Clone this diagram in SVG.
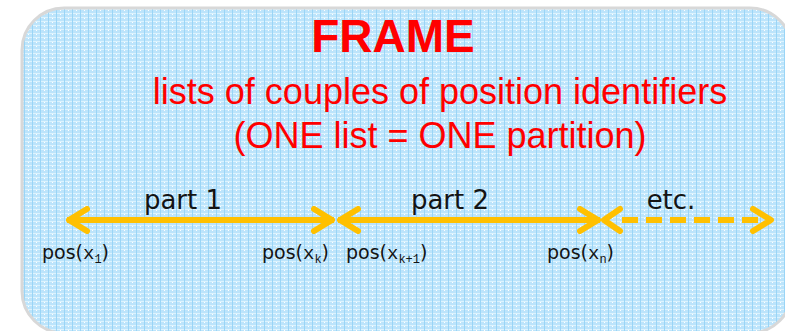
<svg xmlns="http://www.w3.org/2000/svg" width="785" height="331" viewBox="0 0 785 331">
  <defs>
    <!-- fine blue grid texture of the frame panel -->
    <pattern id="grid" x="0" y="0" width="8" height="4" patternUnits="userSpaceOnUse">
      <rect width="8" height="4" fill="#bce4fb"/>
      <rect x="0" y="1" width="8" height="1" fill="#dcf3fe"/>
      <rect x="0" y="0" width="1" height="4" fill="#9ad5f6"/>
      <rect x="4" y="2" width="1" height="1" fill="#ffffff"/>
    </pattern>
    <marker id="chev" viewBox="0 0 24 28" refX="23" refY="14" markerWidth="24" markerHeight="28" markerUnits="userSpaceOnUse" orient="auto-start-reverse">
      <path d="M3,3 L21,14 L3,25" fill="none" stroke="#ffc000" stroke-width="6" stroke-linecap="round" stroke-linejoin="round"/>
    </marker>
    <style>
      .title { font-family: "Liberation Sans", Arial, sans-serif; font-weight: bold; font-size: 46px; fill: #ff0000; }
      .sub { font-family: "Liberation Sans", Arial, sans-serif; font-size: 36px; fill: #ff0000; }
      .part { font-family: "DejaVu Sans", Verdana, sans-serif; font-size: 26px; fill: #141414; }
      .pos { font-family: "DejaVu Sans", Verdana, sans-serif; font-size: 19px; fill: #141414; }
      .var { font-family: "Liberation Mono", "Courier New", monospace; }
      .sub-i { font-family: "Liberation Mono", "Courier New", monospace; font-size: 12px; }
      .arrow { fill: none; stroke: #ffc000; stroke-width: 6; }
      .dashed { stroke-dasharray: 16 8; }
    </style>
  </defs>

  <g id="frame">
    <rect x="22" y="8" width="770" height="325" rx="42" ry="42" fill="url(#grid)" stroke="#d8d8d8" stroke-width="3"/>
    <text class="title" x="393" y="52" text-anchor="middle">FRAME</text>
    <text class="sub" x="440" y="104" text-anchor="middle">lists of couples of position identifiers</text>
    <text class="sub" x="440" y="148" text-anchor="middle">(ONE list = ONE partition)</text>
  </g>

  <g id="connectors">
    <line class="arrow" x1="67" y1="220" x2="334" y2="220" marker-start="url(#chev)" marker-end="url(#chev)"/>
    <line class="arrow" x1="338" y1="220" x2="600" y2="220" marker-start="url(#chev)" marker-end="url(#chev)"/>
    <line class="arrow dashed" x1="622" y1="220" x2="770" y2="220"/>
    <path class="arrow" d="M620,209 L604,220 L620,231" stroke-linecap="round" stroke-linejoin="round"/>
    <path class="arrow" d="M753,209 L771,220 L753,231" stroke-linecap="round" stroke-linejoin="round"/>
  </g>

  <g id="part1">
    <text class="part" x="183" y="209" text-anchor="middle">part 1</text>
  </g>
  <g id="part2">
    <text class="part" x="450" y="209" text-anchor="middle">part 2</text>
  </g>
  <g id="etc">
    <text class="part" x="671" y="209" text-anchor="middle">etc.</text>
  </g>

  <g id="pos-x1">
    <text class="pos" x="42" y="259">pos(<tspan class="var">x</tspan><tspan class="sub-i" dy="4">1</tspan><tspan dy="-4">)</tspan></text>
  </g>
  <g id="pos-xk">
    <text class="pos" x="262" y="259">pos(<tspan class="var">x</tspan><tspan class="sub-i" dy="4">k</tspan><tspan dy="-4">)</tspan></text>
  </g>
  <g id="pos-xk1">
    <text class="pos" x="346" y="259">pos(<tspan class="var">x</tspan><tspan class="sub-i" dy="4">k+1</tspan><tspan dy="-4">)</tspan></text>
  </g>
  <g id="pos-xn">
    <text class="pos" x="547" y="259">pos(<tspan class="var">x</tspan><tspan class="sub-i" dy="4">n</tspan><tspan dy="-4">)</tspan></text>
  </g>
</svg>
